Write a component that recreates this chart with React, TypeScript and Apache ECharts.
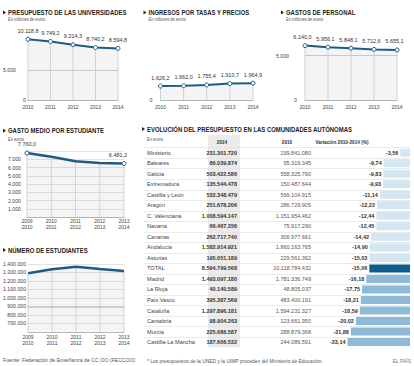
import React, { useEffect, useRef } from 'react';
import * as echarts from 'echarts';

// ---------- data ----------
const years = ['2010', '2011', '2012', '2013', '2014'];
const presupuesto = [10118.8, 9749.2, 9214.3, 8740.2, 8594.8];
const ingresos = [1626.2, 1662.0, 1755.4, 1910.7, 1964.9];
const gastosPersonal = [6140.0, 5956.1, 5848.1, 5712.6, 5655.1];
const courses = ['2009\n2010', '2010\n2011', '2011\n2012', '2012\n2013', '2013\n2014'];
const gastoMedio = [7760.0, 7300, 6750, 6560, 6481.2];
const estudiantes = [1290000, 1337000, 1368000, 1341000, 1317000];

const ticksP1 = [0, 5000];
const ticksP2 = [0];
const ticksP3 = [0, 5000];
const ticksP4 = [1000, 2000, 3000, 4000, 5000, 6000, 7000];
const ticksP5 = [700000, 800000, 900000, 1000000, 1100000, 1200000, 1300000, 1400000];

const regions = ['Ministerio', 'Baleares', 'Galicia', 'Extremadura', 'Castilla y León', 'Aragón', 'C. Valenciana', 'Navarra', 'Canarias', 'Andalucía', 'Asturias', 'TOTAL', 'Madrid', 'La Rioja', 'País Vasco', 'Cataluña', 'Cantabria', 'Murcia', 'Castilla-La Mancha'];
const budget2014 = [231301720, 86039874, 503422586, 135544478, 532348479, 251678206, 1008594147, 66467356, 262717740, 1582914921, 195051189, 8594799568, 1493097180, 40140589, 395387569, 1297896181, 98904263, 225686587, 187606532];
const budget2010 = [239841080, 95319345, 558325790, 150487644, 599104915, 286729905, 1151954462, 75917260, 306977661, 1860163765, 229561392, 10118784432, 1781336749, 48805037, 483400191, 1594231327, 123661950, 288879368, 244086591];
const variation = [-3.56, -9.74, -9.83, -9.93, -11.14, -12.22, -12.44, -12.45, -14.42, -14.90, -15.03, -15.06, -16.18, -17.75, -18.21, -18.59, -20.02, -21.88, -23.14];

// ---------- helpers ----------
const FONT = "'Liberation Sans', Arial, sans-serif";
const BLUE = '#1d5a86';

function fmt(v: number, d = 0): string {
  const s = v.toFixed(d);
  const parts = s.split('.');
  let i = parts[0];
  const neg = i.startsWith('-');
  if (neg) i = i.slice(1);
  const withDots = i.replace(/\B(?=(\d{3})+(?!\d))/g, '.');
  return (neg ? '-' : '') + withDots + (parts[1] ? ',' + parts[1] : '');
}

type Panel = {
  left: number; top: number; width: number; height: number;
  cats: string[]; values: number[];
  min: number; max: number; interval: number;
  yLabels: number[]; yMargin: number; farPad: number;
  splitLines: boolean;
  refLines: { value: number; color: string; width: number }[];
  labelIdx: number[]; symbolIdx: number[];
  lineWidth: number; xMargin: number; decimals: number;
  labelOffsetX: number; lastOffsetX: number;
};

function buildOption() {
  const grid: any[] = [];
  const xAxis: any[] = [];
  const yAxis: any[] = [];
  const series: any[] = [];
  const graphic: any[] = [];

  const panels: Panel[] = [
    { left: 26, top: 40, width: 92, height: 60, cats: years, values: presupuesto, min: 0, max: 10000, interval: 5000,
      yLabels: ticksP1, yMargin: 2, farPad: 10, splitLines: false, refLines: [{ value: 5000, color: '#c8c8c8', width: 1 }],
      labelIdx: [0, 1, 2, 3, 4], symbolIdx: [0, 1, 2, 3, 4], lineWidth: 2, xMargin: 3.5, decimals: 1, labelOffsetX: 0, lastOffsetX: 0 },
    { left: 160.5, top: 40, width: 92.5, height: 60, cats: years, values: ingresos, min: 0, max: 7000, interval: 7000,
      yLabels: ticksP2, yMargin: 8, farPad: 0, splitLines: false, refLines: [],
      labelIdx: [0, 1, 2, 3, 4], symbolIdx: [0, 1, 2, 3, 4], lineWidth: 2, xMargin: 3.5, decimals: 1, labelOffsetX: 0, lastOffsetX: 0 },
    { left: 305, top: 38, width: 92, height: 62, cats: years, values: gastosPersonal, min: 0, max: 7000, interval: 5000,
      yLabels: ticksP3, yMargin: 8, farPad: 8, splitLines: false, refLines: [{ value: 5000, color: '#c8c8c8', width: 1 }],
      labelIdx: [0, 1, 2, 3, 4], symbolIdx: [0, 1, 2, 3, 4], lineWidth: 2, xMargin: 3.5, decimals: 1, labelOffsetX: -2.5, lastOffsetX: -2.5 },
    { left: 27, top: 151, width: 97, height: 66, cats: courses, values: gastoMedio, min: 0, max: 8000, interval: 1000,
      yLabels: ticksP4, yMargin: 6, farPad: 0, splitLines: true, refLines: [],
      labelIdx: [0, 4], symbolIdx: [0, 4], lineWidth: 2.5, xMargin: 1, decimals: 1, labelOffsetX: 0, lastOffsetX: -6 },
    { left: 27, top: 264, width: 97, height: 67.8, cats: courses, values: estudiantes, min: 600000, max: 1400000, interval: 100000,
      yLabels: ticksP5, yMargin: 2, farPad: 0, splitLines: true, refLines: [{ value: 900000, color: '#c4c4c4', width: 1.5 }],
      labelIdx: [], symbolIdx: [], lineWidth: 2.5, xMargin: 2, decimals: 0, labelOffsetX: 0, lastOffsetX: 0 },
  ];

  panels.forEach((p, gi) => {
    grid.push({ left: p.left, top: p.top, width: p.width, height: p.height, containLabel: false });
    xAxis.push({
      type: 'category', gridIndex: gi, data: p.cats, boundaryGap: false,
      axisLine: { show: true, lineStyle: { color: '#b5b5b5', width: 1 } },
      axisTick: { show: false },
      axisLabel: { interval: 0, fontSize: 5, color: '#444', margin: p.xMargin, lineHeight: 6, fontFamily: FONT },
      splitLine: { show: false },
    });
    yAxis.push({
      type: 'value', gridIndex: gi, min: p.min, max: p.max, interval: p.interval,
      axisLine: { show: false }, axisTick: { show: false },
      splitLine: { show: p.splitLines, lineStyle: { color: '#e3e3e3', width: 1 } },
      axisLabel: {
        margin: p.yMargin,
        formatter: (v: number) => {
          if (!p.yLabels.includes(v)) return '';
          const t = fmt(v);
          return v === 0 ? `{a|${t}}` : `{b|${t}}`;
        },
        rich: {
          a: { fontSize: 5.2, color: '#444', fontFamily: FONT },
          b: { fontSize: 5.2, color: '#444', fontFamily: FONT, padding: [0, p.farPad, 0, 0] },
        },
      },
    });
    // area fill
    series.push({
      type: 'line', xAxisIndex: gi, yAxisIndex: gi, data: p.values, symbol: 'none', silent: true,
      lineStyle: { width: 0 }, areaStyle: { color: 'rgba(0,0,0,0.06)', origin: 'start' }, z: 1,
      markLine: {
        silent: true, symbol: 'none', label: { show: false },
        data: p.refLines.map((r) => ({ yAxis: r.value, lineStyle: { color: r.color, width: r.width, type: 'solid' } })),
      },
    });
    // vertical drop lines under the curve
    series.push({
      type: 'bar', xAxisIndex: gi, yAxisIndex: gi, data: p.values, barWidth: 1, silent: true,
      itemStyle: { color: '#d2d2d2' }, z: 2,
    });
    // main line
    const last = p.values.length - 1;
    series.push({
      type: 'line', xAxisIndex: gi, yAxisIndex: gi, clip: false, z: 3,
      data: p.values.map((v, i) => ({
        value: v,
        symbol: p.symbolIdx.includes(i) ? 'circle' : 'none',
        label: { show: p.labelIdx.includes(i), offset: [i === last ? p.lastOffsetX : p.labelOffsetX, 0] },
      })),
      symbolSize: 4,
      lineStyle: { color: BLUE, width: p.lineWidth },
      itemStyle: { color: '#ffffff', borderColor: BLUE, borderWidth: 1 },
      label: {
        position: 'top', distance: 3, fontSize: 5.5, color: '#333', fontFamily: FONT,
        formatter: (prm: any) => fmt(prm.value, p.decimals),
      },
    });
  });

  // ---------- table + variation bars ----------
  const ROW0 = 152.7;
  const ROWH = 10.52;
  const rowY = (i: number) => ROW0 + i * ROWH;
  const tableBottom = rowY(regions.length - 1) + ROWH / 2;
  const totalIdx = regions.indexOf('TOTAL');
  const totalVar = variation[totalIdx];

  const gi = panels.length;
  grid.push({ left: 329, right: 4, top: ROW0 - ROWH / 2, height: ROWH * regions.length });
  xAxis.push({ type: 'value', gridIndex: gi, min: -30, max: 0, show: false });
  yAxis.push({ type: 'category', gridIndex: gi, data: regions, inverse: true, show: false });
  series.push({
    type: 'bar', xAxisIndex: gi, yAxisIndex: gi, barWidth: 8, z: 3,
    data: variation.map((v, i) => ({
      value: v,
      itemStyle: { color: i === totalIdx ? '#0c5a8e' : v > totalVar ? '#d3e6f1' : '#8dbbd7' },
    })),
    label: {
      show: true, position: 'left', distance: 2, fontSize: 5.5, fontWeight: 'bold', color: '#333', fontFamily: FONT,
      formatter: (prm: any) => fmt(prm.value, 2),
    },
  });

  // gray 2014 column
  graphic.push({ type: 'rect', shape: { x: 208, y: 135, width: 32, height: tableBottom - 135 }, style: { fill: '#ebebeb' }, z: 0 });
  // separators
  for (let i = -1; i < regions.length - 1; i++) {
    const y = Math.round(rowY(i) + ROWH / 2) + 0.5;
    graphic.push({ type: 'line', shape: { x1: 144, y1: y, x2: 410, y2: y }, style: { stroke: '#dedede', lineWidth: 0.6 }, z: 1 });
  }
  regions.forEach((r, i) => {
    const y = rowY(i);
    graphic.push({ type: 'text', x: 147, y, z: 5, style: { text: r, fontSize: 5.6, fontFamily: FONT, fill: '#444', verticalAlign: 'middle', align: 'left' } });
    graphic.push({ type: 'text', x: 237, y, z: 5, style: { text: fmt(budget2014[i]), fontSize: 5.5, fontWeight: 'bold', fontFamily: FONT, fill: '#333', verticalAlign: 'middle', align: 'right' } });
    graphic.push({ type: 'text', x: 311, y, z: 5, style: { text: fmt(budget2010[i]), fontSize: 5.5, fontFamily: FONT, fill: '#555', verticalAlign: 'middle', align: 'right' } });
  });
  const headers = [
    { text: '2014', x: 222 },
    { text: '2010', x: 287 },
    { text: 'Variación 2010-2014 (%)', x: 342 },
  ];
  headers.forEach((h) => {
    graphic.push({ type: 'text', x: h.x, y: 142, scaleX: 0.9, z: 5, style: { text: h.text, fontSize: 5.2, fontWeight: 'bold', fontFamily: FONT, fill: '#333', verticalAlign: 'middle', align: 'center' } });
  });

  // ---------- titles ----------
  const titles = [
    { text: 'PRESUPUESTO DE LAS UNIVERSIDADES', x: 8, y: 12.5 },
    { text: 'INGRESOS POR TASAS Y PRECIOS', x: 148.5, y: 12.5 },
    { text: 'GASTOS DE PERSONAL', x: 286, y: 12.5 },
    { text: 'GASTO MEDIO POR ESTUDIANTE', x: 8, y: 130.7 },
    { text: 'NÚMERO DE ESTUDIANTES', x: 8, y: 250 },
    { text: 'EVOLUCIÓN DEL PRESUPUESTO EN LAS COMUNIDADES AUTÓNOMAS', x: 147, y: 129 },
  ];
  titles.forEach((t) => {
    graphic.push({ type: 'polygon', shape: { points: [[t.x - 5, t.y - 2], [t.x - 5, t.y + 2], [t.x - 2, t.y]] }, style: { fill: '#222' } });
    graphic.push({ type: 'text', x: t.x, y: t.y, scaleX: 0.86, style: { text: t.text, fontSize: 6.9, fontWeight: 'bold', fontFamily: FONT, fill: '#222', verticalAlign: 'middle', align: 'left' } });
  });
  const subtitles = [
    { text: 'En millones de euros', x: 8, y: 19.3 },
    { text: 'En millones de euros', x: 148.5, y: 19.3 },
    { text: 'En millones de euros', x: 286, y: 19.3 },
    { text: 'En euros', x: 8, y: 139.3 },
    { text: 'En euros', x: 147, y: 139.5 },
  ];
  subtitles.forEach((t) => {
    graphic.push({ type: 'text', x: t.x, y: t.y, scaleX: 0.8, style: { text: t.text, fontSize: 5, fontFamily: FONT, fill: '#555', verticalAlign: 'middle', align: 'left' } });
  });

  // footers
  graphic.push({ type: 'text', x: 3, y: 360, style: { text: 'Fuente: Federación de Enseñanza de CC OO (FECCOO)', fontSize: 5.2, fontFamily: FONT, fill: '#555', verticalAlign: 'middle', align: 'left' } });
  graphic.push({ type: 'text', x: 147, y: 361, style: { text: '* Los presupuestos de la UNED y la UIMP proceden del Ministerio de Educación.', fontSize: 4.9, fontFamily: FONT, fill: '#555', verticalAlign: 'middle', align: 'left' } });
  graphic.push({ type: 'text', x: 411, y: 361, style: { text: 'EL PAÍS', fontSize: 5, fontFamily: FONT, fill: '#777', verticalAlign: 'middle', align: 'right' } });

  return {
    animation: false,
    backgroundColor: '#ffffff',
    textStyle: { fontFamily: FONT },
    grid, xAxis, yAxis, series, graphic,
  };
}

export default function App() {
  const ref = useRef<HTMLDivElement>(null);
  useEffect(() => {
    if (!ref.current) return;
    const chart = echarts.init(ref.current, undefined, { renderer: 'svg' });
    chart.setOption(buildOption() as any);
    return () => chart.dispose();
  }, []);
  return <div ref={ref} style={{ position: 'absolute', left: 0, top: 0, width: 414, height: 366 }} />;
}
